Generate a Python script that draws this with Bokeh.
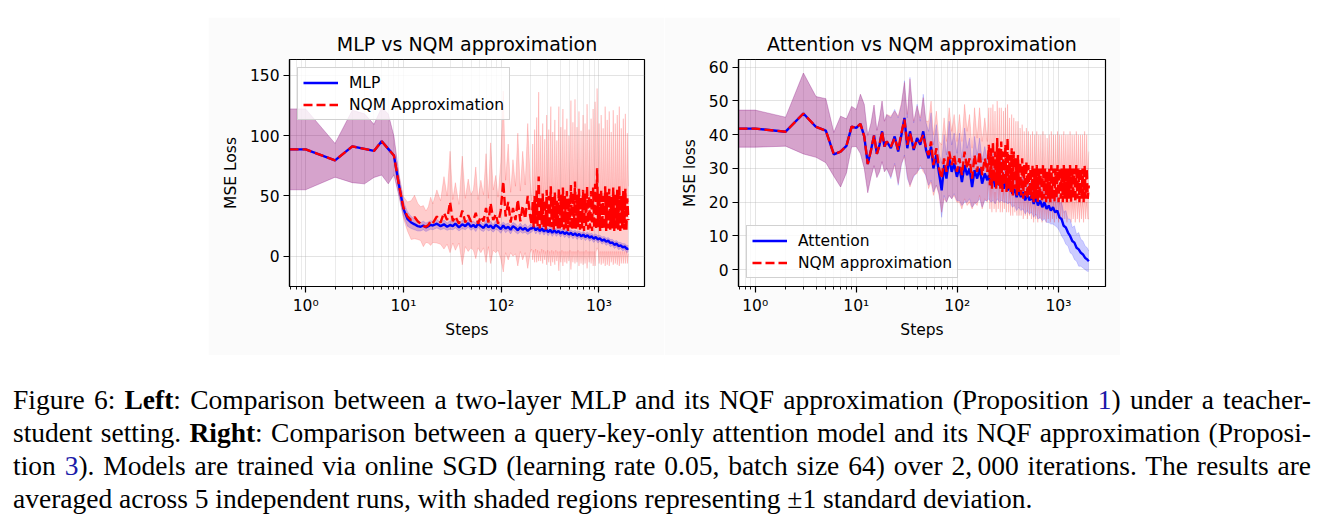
import numpy as np
from bokeh.plotting import figure
from bokeh.models import (Range1d, FixedTicker, Legend, LegendItem, Div, Spacer,
                          CustomJSTickFormatter)
from bokeh.layouts import row, column
from bokeh.embed import file_html
from bokeh.resources import INLINE

# ---------------- data ----------------
# steps used by the MLP / Attention curves
steps = [0.684, 1, 2, 3, 4, 5, 6, 7, 8, 9, 10, 11, 12, 13, 14, 15, 16, 17, 18, 19, 20,
         22, 24, 26, 28, 30, 32, 34, 37, 40, 43, 46, 49,
         52, 55, 58, 62, 66, 70, 74, 78, 83, 88, 93, 99, 105, 111, 118, 125, 132, 140, 148, 157, 166, 176, 187, 198,
         205, 215, 226, 237, 249, 261, 274, 288, 302, 317, 333, 350, 367, 386, 405, 425, 446, 469, 492, 517,
         543, 570, 598, 628, 660, 693, 727, 764, 802, 842, 884, 928, 975, 1023, 1075, 1128, 1185, 1244, 1306, 1372,
         1440, 1512, 1588, 1667, 1751, 1838, 1930, 2000]

# steps used by the (noisier) NQM curves
steps_nqm = [0.684, 1, 2, 3, 4, 5, 6, 7, 8, 9, 10, 11, 12, 13, 14, 15, 16, 17, 18, 19, 20,
             22, 24, 26, 28, 30, 32, 34, 37, 40, 43, 46, 49,
             52, 55, 58, 62, 66, 70, 74, 78, 83, 88, 93, 99, 105, 111, 118, 125, 132, 140, 148, 157, 166, 176, 187, 198,
             205, 210, 215, 220, 225, 231, 236, 242, 248, 254,
             260, 266, 272, 279, 286, 292, 299, 307, 314, 322,
             329, 337, 345, 354, 362, 371, 380, 389, 398, 408,
             418, 428, 438, 449, 459, 470, 482, 493, 505, 517,
             530, 542, 555, 569, 582, 596, 611, 625, 640, 656,
             671, 688, 704, 721, 738, 756, 774, 793, 812, 831,
             851, 872, 893, 914, 936, 958, 981, 1005, 1029, 1054,
             1079, 1105, 1131, 1158, 1186, 1215, 1244, 1274, 1304, 1335,
             1367, 1400, 1434, 1468, 1503, 1539, 1576, 1614, 1653, 1692,
             1733, 1775, 1817, 1861, 1905, 1951, 2000]

# Left panel: MLP vs NQM approximation
mlp_mean = [88.6, 88.6, 79.5, 91.0, 89.0, 87.3, 95.3, 89.0, 83.5, 59.0, 39.5, 31.0, 28.0, 26.5, 25.0, 24.5, 25.5, 24.0, 25.0, 26.0, 25.5,
            27.0, 25.0, 26.5, 24.5, 26.0, 25.0, 27.0, 24.0, 26.5, 25.0, 27.5, 24.5,
            26.0, 24.0, 27.0, 25.0, 23.5, 26.5, 24.0, 25.5, 23.0, 26.0, 24.5, 22.5, 25.5, 23.0, 24.5, 22.0, 25.0, 23.5, 21.5, 24.0, 22.0, 23.5, 21.0, 23.0,
            23.0, 24.5, 21.5, 23.5, 21.0, 23.0, 20.5, 22.5, 20.0, 22.0, 19.5, 21.5, 19.5, 21.0, 19.0, 20.5, 18.5, 20.0, 18.0, 19.5,
            17.5, 19.0, 17.0, 18.5, 16.5, 18.0, 16.0, 17.5, 15.5, 16.5, 14.5, 16.0, 14.0, 15.0, 13.0, 14.0, 12.0, 13.0, 11.0, 11.5,
            9.5, 10.5, 8.5, 9.0, 7.5, 8.0, 6.0, 6.5]
mlp_std = [33.5, 33.5, 14.0, 30.0, 29.0, 22.0, 28.0, 29.0, 16.0, 9.0, 6.0, 6.0, 5.0, 4.5, 4.0, 3.5, 3.5, 3.5, 3.5, 3.5, 3.5,
           3.5, 3.0, 3.5, 3.0, 3.5, 3.0, 3.5, 3.0, 3.5, 3.0, 3.5, 3.0,
           3.0, 3.5, 3.0, 3.5, 3.0, 3.5, 3.0, 3.5, 3.0, 3.5, 3.0, 3.5, 3.0, 3.5, 3.0, 3.5, 3.0, 3.5, 3.0, 3.5, 3.0, 3.5, 3.0, 3.5,
           3.0, 2.5, 3.0, 2.5, 3.0, 2.5, 3.0, 2.5, 3.0, 2.5, 3.0, 2.5, 3.0, 2.5, 3.0, 2.5, 3.0, 2.5, 3.0, 2.5,
           3.0, 2.5, 3.0, 2.5, 3.0, 2.5, 3.0, 2.5, 3.0, 2.5, 3.0, 2.5, 3.0, 2.5, 3.0, 2.5, 3.0, 2.5, 3.0, 2.5,
           3.0, 2.5, 3.0, 2.5, 3.0, 2.5, 3.0, 2.5]
nqm1_mean = [88.6, 88.6, 79.5, 91.0, 89.0, 87.3, 95.3, 89.0, 83.5, 59.0, 40.5, 33.0, 30.0, 32.5, 29.0, 27.0, 25.0, 24.5, 26.0, 29.0, 27.5,
             33.0, 28.0, 36.0, 30.0, 45.0, 29.0, 33.0, 27.0, 38.0, 28.0, 34.0, 29.0,
             30.0, 36.0, 27.0, 33.0, 29.0, 40.0, 28.0, 44.0, 30.0, 35.0, 27.0, 38.0, 62.0, 33.0, 45.0, 28.0, 40.0, 30.0, 47.0, 29.0, 42.0, 31.0, 50.0, 33.0,
             26, 45, 24, 50, 27, 55, 25, 66, 23, 48,
             26, 52, 24, 47, 22, 55, 25, 50, 23, 58,
             24, 49, 22, 53, 25, 46, 23, 56, 22, 51,
             24, 57, 22, 50, 23, 54, 21, 48, 24, 59,
             22, 53, 23, 62, 22, 51, 24, 56, 22, 49,
             23, 55, 21, 52, 24, 58, 22, 50, 23, 54,
             21, 57, 23, 60, 22, 73, 24, 52, 21, 55,
             23, 50, 22, 58, 21, 53, 23, 56, 22, 49,
             23, 57, 21, 52, 23, 55, 22, 58, 21, 50,
             23, 54, 22, 56, 21, 48, 30]
nqm1_std = [33.5, 33.5, 14.0, 30.0, 29.0, 22.0, 28.0, 29.0, 16.0, 9.0, 9.0, 12.0, 16.0, 18.0, 15.0, 14.0, 17.0, 13.0, 15.0, 20.0, 16.0,
            22, 18, 30, 20, 42, 18, 28, 16, 45, 20, 30, 22,
            25, 38, 20, 30, 22, 45, 20, 50, 25, 32, 22, 40, 75, 30, 48, 25, 40, 28, 55, 25, 45, 28, 60, 30,
            20, 48, 19, 55, 21, 60, 20, 70, 19, 52,
            20, 58, 19, 50, 18, 62, 20, 55, 19, 66,
            19, 54, 18, 60, 20, 50, 19, 68, 18, 56,
            19, 65, 18, 55, 19, 60, 17, 52, 19, 70,
            18, 58, 19, 68, 18, 56, 19, 64, 18, 55,
            19, 62, 17, 58, 19, 68, 18, 55, 19, 60,
            17, 65, 19, 68, 18, 66, 19, 58, 17, 62,
            19, 56, 18, 66, 17, 60, 19, 64, 18, 54,
            19, 64, 17, 58, 19, 62, 18, 66, 17, 56,
            19, 60, 18, 62, 17, 54, 28]

# Right panel: Attention vs NQM approximation
att_mean = [41.8, 41.8, 40.9, 46.3, 42.3, 41.2, 34.2, 35.0, 36.7, 42.4, 42.0, 43.2, 39.5, 31.3, 35.5, 39.8, 34.3, 37.0, 41.0, 36.5, 38.0,
            36.0, 39.5, 35.0, 40.0, 45.0, 36.0, 41.0, 35.5, 39.0, 37.0, 41.0, 35.5,
            33.0, 36.5, 30.0, 34.0, 28.5, 23.5, 31.0, 27.0, 33.0, 29.0, 31.5, 27.5, 30.5, 26.0, 31.0, 28.0, 30.0, 24.5, 29.5, 27.0, 30.0, 25.5, 28.5, 26.5,
            28.0, 25.0, 27.5, 24.5, 27.0, 25.0, 26.5, 24.0, 26.0, 23.5, 25.0, 22.5, 24.0, 21.5, 23.5, 21.5, 23.0, 20.5, 22.5, 20.5,
            22.0, 19.5, 21.5, 19.0, 20.5, 18.5, 20.0, 18.0, 19.0, 17.5, 18.5, 17.0, 17.5, 15.5, 15.0, 13.0, 12.5, 11.0, 10.0, 8.5,
            8.0, 6.5, 6.0, 5.0, 4.5, 3.5, 3.0, 2.5]
att_std = [5.5, 5.5, 4.3, 12.0, 9.0, 9.5, 6.5, 10.5, 8.0, 6.0, 5.5, 8.8, 9.5, 8.5, 8.0, 9.0, 7.0, 8.0, 9.0, 7.5, 8.0,
           9, 8, 10, 9, 11, 9, 16, 8, 10, 7, 11, 8,
           8, 10, 7, 9, 6, 8, 9, 7, 11, 8, 9, 7, 10, 7, 11, 8, 9, 6, 10, 7, 9, 7, 8, 6,
           7, 5, 7, 5, 6, 5, 6, 4, 6, 4, 5, 4, 5, 4, 5, 4, 5, 4, 5, 4,
           5, 4, 5, 4, 5, 4, 5, 4, 5, 4, 5, 4, 5, 4, 5, 4, 5, 4, 5, 4,
           5, 4, 5, 4, 4, 3.5, 3.5, 3]
nqm2_mean = [41.8, 41.8, 40.9, 46.3, 42.3, 41.2, 34.2, 35.0, 36.7, 42.4, 42.0, 43.2, 39.5, 31.3, 35.5, 39.8, 34.3, 37.0, 41.0, 36.5, 38.0,
             36.5, 39.0, 35.5, 40.5, 44.5, 37.0, 40.5, 36.0, 38.5, 38.0, 40.0, 36.0,
             34, 38, 31, 36, 30, 27, 33, 29, 35, 31, 34, 29, 33, 28, 35, 30, 33, 27, 34, 29, 35, 28, 33, 29,
             37, 25, 36, 24, 38, 26, 35, 24, 39, 25,
             36, 24, 38, 23, 35, 25, 37, 23, 39, 24,
             34, 23, 36, 22, 35, 24, 33, 22, 34, 23,
             32, 22, 33, 21, 31, 22, 32, 21, 31, 22,
             30, 21, 31, 20, 30, 21, 31, 20, 30, 21,
             30, 20, 31, 21, 30, 20, 29, 21, 30, 20,
             31, 21, 30, 20, 30, 21, 31, 20, 30, 21,
             30, 20, 31, 21, 30, 20, 30, 21, 31, 20,
             30, 21, 30, 20, 31, 21, 30, 20, 30, 21,
             30, 20, 31, 21, 30, 21, 25]
nqm2_std = [5.5, 5.5, 4.3, 12.0, 9.0, 9.5, 6.5, 10.5, 8.0, 6.0, 5.5, 8.8, 9.5, 8.5, 8.0, 9.0, 7.0, 8.0, 9.0, 7.5, 8.0,
            9, 8, 10, 9, 11, 9, 16, 8, 10, 7, 11, 8,
            10, 12, 9, 11, 8, 10, 12, 9, 13, 10, 12, 9, 13, 10, 14, 11, 13, 9, 14, 10, 13, 10, 12, 9,
            11, 7, 12, 7, 11, 8, 12, 7, 11, 7,
            12, 7, 10, 6, 12, 7, 11, 6, 10, 7,
            11, 7, 10, 6, 10, 7, 11, 6, 10, 7,
            10, 6, 10, 6, 10, 6, 10, 6, 10, 6,
            10, 6, 10, 6, 10, 6, 10, 6, 10, 6,
            10, 6, 10, 6, 10, 6, 10, 6, 10, 6,
            10, 6, 10, 6, 10, 6, 10, 6, 10, 6,
            10, 6, 10, 6, 10, 6, 10, 6, 10, 6,
            10, 6, 10, 6, 10, 6, 10, 6, 10, 6,
            10, 6, 10, 6, 10, 6, 10]

x_major = [1, 10, 100, 1000]
x_labels = ["10\u2070", "10\u00b9", "10\u00b2", "10\u00b3"]
x_minor = [m * d for d in [0.1, 1, 10, 100, 1000] for m in range(2, 10)]
x_limits = (0.684, 2924)

left_yticks = [0, 50, 100, 150]
left_ylim = (-25, 163)
right_yticks = [0, 10, 20, 30, 40, 50, 60]
right_ylim = (-5, 62.3)

FONT = "DejaVu Sans"
BLUE = "#0000ff"
RED = "#ff0000"
BG = "#fbfbfb"
LBL = "15.5px"


def panel(title, ylabel, ylim, yticks, xa, m_a, s_a, xb, m_b, s_b, lab_a, lab_b, loc,
          left, fw, right):
    p = figure(x_axis_type="log", x_range=Range1d(*x_limits), y_range=Range1d(*ylim),
               frame_width=fw, frame_height=227, min_border_left=left,
               min_border_right=right, min_border_top=42, min_border_bottom=69,
               output_backend="svg", toolbar_location=None, title=title)
    p.background_fill_color = "white"
    p.border_fill_color = BG
    p.outline_line_color = "black"
    p.outline_line_width = 1.2
    p.title.text_font = FONT
    p.title.text_font_size = "19px"
    p.title.text_font_style = "normal"
    p.title.text_color = "black"
    p.title.align = "center"
    p.title.standoff = 9

    xa = np.array(xa, dtype=float)
    xb = np.array(xb, dtype=float)
    ma, sa = np.array(m_a, float), np.array(s_a, float)
    mb, sb = np.array(m_b, float), np.array(s_b, float)

    p.varea(x=xa, y1=ma - sa, y2=ma + sa, fill_color=BLUE, fill_alpha=0.2)
    p.varea(x=xb, y1=mb - sb, y2=mb + sb, fill_color=RED, fill_alpha=0.2)
    for xx, lo, hi, c in ((xa, ma - sa, ma + sa, BLUE), (xb, mb - sb, mb + sb, RED)):
        p.line(xx, lo, line_color=c, line_alpha=0.15, line_width=1)
        p.line(xx, hi, line_color=c, line_alpha=0.15, line_width=1)
    la = p.line(xa, ma, line_color=BLUE, line_width=2.4)
    lb = p.line(xb, mb, line_color=RED, line_width=2.4, line_dash="9 4")

    # axes
    p.xaxis.ticker = FixedTicker(ticks=x_major, minor_ticks=x_minor)
    p.xaxis.formatter = CustomJSTickFormatter(
        args=dict(labels=x_labels),
        code="const i = Math.round(Math.log10(tick)); return labels[i] || '';")
    p.yaxis.ticker = FixedTicker(ticks=yticks)
    for ax in (p.xaxis[0], p.yaxis[0]):
        ax.axis_line_color = "black"
        ax.axis_line_width = 1.2
        ax.major_tick_line_color = "black"
        ax.major_tick_line_width = 1.2
        ax.major_tick_out = 6
        ax.major_tick_in = 0
        ax.minor_tick_line_color = "black"
        ax.minor_tick_line_width = 0.9
        ax.minor_tick_out = 3
        ax.minor_tick_in = 0
        ax.major_label_text_font = FONT
        ax.major_label_text_font_size = LBL
        ax.major_label_text_color = "black"
        ax.axis_label_text_font = FONT
        ax.axis_label_text_font_size = LBL
        ax.axis_label_text_font_style = "normal"
        ax.axis_label_text_color = "black"
    p.yaxis.minor_tick_line_color = None
    p.xaxis.axis_label = "Steps"
    p.yaxis.axis_label = ylabel
    p.xaxis.axis_label_standoff = 3
    p.yaxis.axis_label_standoff = 7
    p.xaxis.major_label_standoff = 4
    p.yaxis.major_label_standoff = 4

    # grid
    p.xgrid.grid_line_color = "#b0b0b0"
    p.xgrid.grid_line_alpha = 0.35
    p.xgrid.minor_grid_line_color = "#b0b0b0"
    p.xgrid.minor_grid_line_alpha = 0.25
    p.ygrid.grid_line_color = "#b0b0b0"
    p.ygrid.grid_line_alpha = 0.35

    legend = Legend(items=[LegendItem(label=lab_a, renderers=[la]),
                           LegendItem(label=lab_b, renderers=[lb])],
                    location=loc)
    legend.label_text_font = FONT
    legend.label_text_font_size = LBL
    legend.label_text_color = "black"
    legend.glyph_width = 35
    legend.glyph_height = 19
    legend.label_height = 19
    legend.label_standoff = 11
    legend.spacing = 3
    legend.padding = 5
    legend.margin = 8
    legend.border_line_color = "#cccccc"
    legend.border_line_alpha = 0.9
    legend.background_fill_color = "white"
    legend.background_fill_alpha = 0.8
    p.add_layout(legend)
    return p


p1 = panel("MLP vs NQM approximation", "MSE Loss", left_ylim, left_yticks,
           steps, mlp_mean, mlp_std, steps_nqm, nqm1_mean, nqm1_std,
           "MLP", "NQM Approximation", "top_left", 81, 355, 20)
p2 = panel("Attention vs NQM approximation", "MSE loss", right_ylim, right_yticks,
           steps, att_mean, att_std, steps_nqm, nqm2_mean, nqm2_std,
           "Attention", "NQM approximation", "bottom_left", 74, 367, 15)

LINK = "#1a1aa8"
caption_lines = [
    'Figure 6: <b>Left</b>: Comparison between a two-layer MLP and its NQF approximation '
    '(Proposition <span style="color:%s">1</span>) under a teacher-' % LINK,
    'student setting. <b>Right</b>: Comparison between a query-key-only attention model and '
    'its NQF approximation (Proposi-',
    'tion <span style="color:%s">3</span>). Models are trained via online SGD (learning rate 0.05, '
    'batch size 64) over 2,&#8201;000 iterations. The results are' % LINK,
    'averaged across 5 independent runs, with shaded regions representing \u00b11 standard deviation.',
]
CAP_W = 1298
html = ""
for i, ln in enumerate(caption_lines):
    just = "justify" if i < len(caption_lines) - 1 else "left"
    html += ('<div style="width:%dpx;text-align:justify;text-align-last:%s;white-space:nowrap;'
             'overflow:visible;">%s</div>' % (CAP_W, just, ln))
html = html.replace("white-space:nowrap;", "")
caption = Div(text=html, width=CAP_W, height=132,
              styles={"font-family": "'Liberation Serif', 'Times New Roman', serif",
                      "font-size": "27.5px", "line-height": "33px", "color": "black"})

layout = column(Spacer(height=17),
                row(Spacer(width=208), p1, p2),
                Spacer(height=23),
                row(Spacer(width=8), caption))

open("out.html", "w").write(file_html(layout, INLINE))
